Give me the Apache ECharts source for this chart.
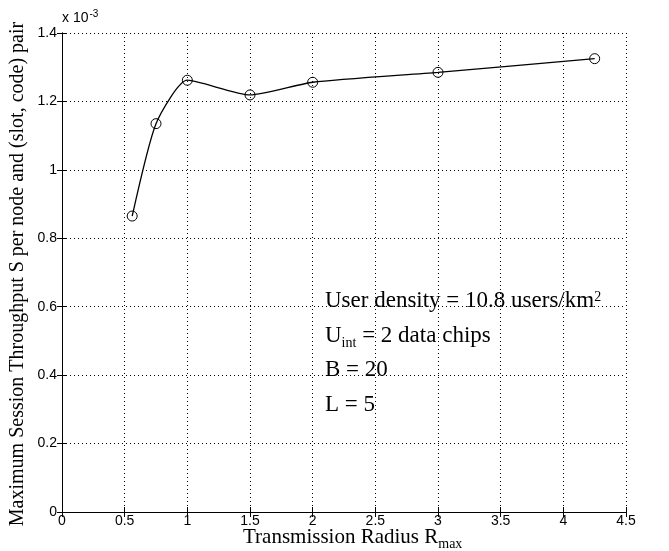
<!DOCTYPE html>
<html>
<head>
<meta charset="utf-8">
<script src="https://cdn.jsdelivr.net/npm/echarts@6/dist/echarts.min.js"></script>
<style>html,body{margin:0;padding:0;background:#fff;}#c{width:669px;height:551px;}</style>
</head>
<body>
<div id="c"></div>
<script>
var radius = [0.56, 0.75, 1.0, 1.5, 2.0, 3.0, 4.25];
var throughput = [0.865, 1.135, 1.262, 1.219, 1.256, 1.285, 1.325]; // x 1e-3
var xTicks = [0, 0.5, 1, 1.5, 2, 2.5, 3, 3.5, 4, 4.5];
var yTicks = [0, 0.2, 0.4, 0.6, 0.8, 1, 1.2, 1.4];
var annotation = ['User density = 10.8 users/km', 'U', ' = 2 data chips', 'B = 20', 'L = 5'];
var yTitle = 'Maximum Session Throughput S per node and (slot, code) pair';
var xTitle = ['Transmission Radius R', 'max'];

var chart = echarts.init(document.getElementById('c'), null, {renderer: 'canvas'});
var tickFont = {fontFamily: 'Liberation Sans', fontSize: 14, color: '#000'};
var serif = 'Liberation Serif';
var dotted = {color: '#000', width: 1, type: [1, 3]};
var axisLine = {show: true, lineStyle: {color: '#000', width: 1}};
function fmt(v){ return String(v); }

var option = {
  backgroundColor: '#fff',
  animation: false,
  grid: {left: 62, right: 43, top: 33, bottom: 39, containLabel: false, outerBoundsMode: 'none'},
  xAxis: [{
    type: 'value', min: 0, max: 4.5, interval: 0.5, position: 'bottom',
    axisLine: axisLine,
    axisTick: {show: true, inside: true, length: 5, lineStyle: {color: '#000'}},
    axisLabel: Object.assign({margin: 2, formatter: fmt}, tickFont),
    splitLine: {show: true, lineStyle: dotted}
  }, {
    type: 'value', min: 0, max: 4.5, interval: 0.5, position: 'top',
    axisLine: axisLine,
    axisTick: {show: true, inside: true, length: 5, lineStyle: {color: '#000'}},
    axisLabel: {show: false}, splitLine: {show: false}
  }],
  yAxis: [{
    type: 'value', min: 0, max: 1.4, interval: 0.2, position: 'left',
    axisLine: axisLine,
    axisTick: {show: true, inside: true, length: 5, lineStyle: {color: '#000'}},
    axisLabel: Object.assign({margin: 5, formatter: fmt}, tickFont),
    splitLine: {show: true, lineStyle: dotted}
  }, {
    type: 'value', min: 0, max: 1.4, interval: 0.2, position: 'right',
    axisLine: axisLine,
    axisTick: {show: true, inside: true, length: 5, lineStyle: {color: '#000'}},
    axisLabel: {show: false}, splitLine: {show: false}
  }],
  series: [{
    type: 'line',
    data: radius.map(function(r, i){ return [r, throughput[i]]; }),
    smooth: 0.2,
    symbol: 'circle', symbolSize: 10,
    itemStyle: {color: 'rgba(255,255,255,0)', borderColor: '#000', borderWidth: 1},
    lineStyle: {color: '#000', width: 1.3},
    z: 5
  }],
  graphic: [{
    type: 'text', x: 18, y: 274, rotation: Math.PI / 2,
    style: {text: yTitle, fontFamily: serif, fontSize: 20, fill: '#000', align: 'center', verticalAlign: 'middle'}
  }, {
    type: 'text', left: 243, top: 527,
    style: {text: '{a|' + xTitle[0] + '}{s|' + xTitle[1] + '}', rich: {
      a: {fontFamily: serif, fontSize: 21, lineHeight: 21, fill: '#000'},
      s: {fontFamily: serif, fontSize: 14, lineHeight: 14, fill: '#000', verticalAlign: 'bottom', padding: [0,0,-3,0]}
    }}
  }, {
    type: 'text', left: 62, top: 9,
    style: {text: '{a|x 10}{b|-3}', rich: {
      a: {fontFamily: 'Liberation Sans', fontSize: 14, fill: '#000'},
      b: {fontFamily: 'Liberation Sans', fontSize: 10, fill: '#000', verticalAlign: 'top', padding: [0,0,8,1]}
    }}
  }, {
    type: 'text', left: 325, top: 289, z: 10,
    style: {text: '{t|' + annotation[0] + '}{p|2}', rich: {
      t: {fontFamily: serif, fontSize: 23, lineHeight: 24, fill: '#000'},
      p: {fontFamily: serif, fontSize: 14, lineHeight: 14, fill: '#000', verticalAlign: 'top', padding: [1,0,0,0]}
    }}
  }, {
    type: 'text', left: 325, top: 324, z: 10,
    style: {text: '{t|' + annotation[1] + '}{s|int}{t|' + annotation[2] + '}', rich: {
      t: {fontFamily: serif, fontSize: 23, lineHeight: 24, fill: '#000'},
      s: {fontFamily: serif, fontSize: 14, lineHeight: 14, fill: '#000', verticalAlign: 'bottom', padding: [0,0,-3,0]}
    }}
  }, {
    type: 'text', left: 325, top: 358, z: 10,
    style: {text: annotation[3], fontFamily: serif, fontSize: 23, fill: '#000'}
  }, {
    type: 'text', left: 325, top: 393, z: 10,
    style: {text: annotation[4], fontFamily: serif, fontSize: 23, fill: '#000'}
  }]
};
chart.setOption(option);
</script>
</body>
</html>
